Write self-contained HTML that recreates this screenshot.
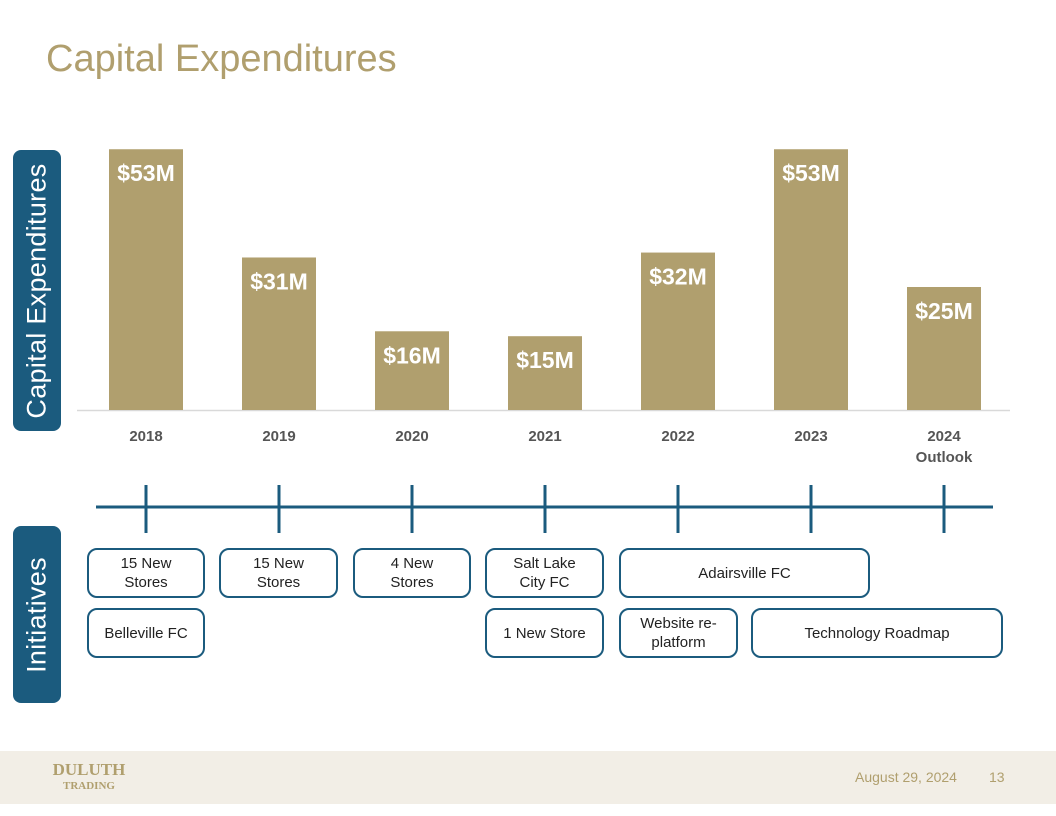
<!DOCTYPE html>
<html><head><meta charset="utf-8"><style>
body{margin:0;width:1056px;height:816px;background:#fff;font-family:"Liberation Sans",sans-serif;overflow:hidden;position:relative}
.abs{position:absolute}
.box{position:absolute;border:2.5px solid #1b5b7e;border-radius:10px;box-sizing:border-box;display:flex;align-items:center;justify-content:center;text-align:center;font-size:15px;line-height:19px;color:#222}
.side{position:absolute;background:#1b5b7e;border-radius:8px;left:13px;width:48px}
.side span{position:absolute;left:50%;top:50%;transform:translate(-50%,-50%) rotate(-90deg);color:#fff;font-size:27px;white-space:nowrap;letter-spacing:0.3px}
</style></head><body>
<div class="abs" style="left:46px;top:38px;font-size:38px;color:#b09f6e">Capital Expenditures</div>
<div class="side" style="top:150px;height:281px"><span>Capital Expenditures</span></div>
<div class="side" style="top:526px;height:177px"><span>Initiatives</span></div>
<svg class="abs" style="left:0;top:0" width="1056" height="540">
<line x1="77" x2="1010" y1="410.5" y2="410.5" stroke="#d9d9d9" stroke-width="1.5"/>
<g id="bars"></g>
<line x1="96" x2="993" y1="507" y2="507" stroke="#1b5b7e" stroke-width="3"/>
<g id="ticks"></g>
</svg>
<div class="box" style="left:87px;top:548px;width:118px;height:50px">15 New<br>Stores</div>
<div class="box" style="left:219px;top:548px;width:119px;height:50px">15 New<br>Stores</div>
<div class="box" style="left:353px;top:548px;width:118px;height:50px">4 New<br>Stores</div>
<div class="box" style="left:485px;top:548px;width:119px;height:50px">Salt Lake<br>City FC</div>
<div class="box" style="left:619px;top:548px;width:251px;height:50px">Adairsville FC</div>
<div class="box" style="left:87px;top:608px;width:118px;height:50px">Belleville FC</div>
<div class="box" style="left:485px;top:608px;width:119px;height:50px">1 New Store</div>
<div class="box" style="left:619px;top:608px;width:119px;height:50px">Website re-<br>platform</div>
<div class="box" style="left:751px;top:608px;width:252px;height:50px">Technology Roadmap</div>
<div class="abs" style="left:0;top:751px;width:1056px;height:53px;background:#f2eee6">
<div class="abs" style="left:44px;top:12px;color:#b09f6e;font-weight:bold;font-family:'Liberation Serif',serif;font-size:17px;line-height:14px;text-align:center;width:90px">DULUTH<br><span style="font-size:11px">TRADING</span></div>
<div class="abs" style="left:855px;top:18px;color:#b09f6e;font-size:14px">August 29, 2024</div>
<div class="abs" style="left:989px;top:18px;color:#b09f6e;font-size:14px">13</div>
</div>
<script>
const categories=["2018","2019","2020","2021","2022","2023","2024"];
const values=[53,31,16,15,32,53,25];
const labels=["$53M","$31M","$16M","$15M","$32M","$53M","$25M"];
const ns="http://www.w3.org/2000/svg";
const x=i=>146+i*133;
const y=v=>410-v*4.92;
const bars=document.getElementById('bars'),ticks=document.getElementById('ticks');
categories.forEach((c,i)=>{
 const r=document.createElementNS(ns,'rect');
 r.setAttribute('x',x(i)-37);r.setAttribute('width',74);r.setAttribute('y',y(values[i]));r.setAttribute('height',410-y(values[i]));r.setAttribute('fill','#b09f6e');
 
 
 bars.appendChild(r);
 const t=document.createElementNS(ns,'text');
 t.setAttribute('x',x(i));t.setAttribute('y',y(values[i])+32);t.setAttribute('text-anchor','middle');t.setAttribute('fill','#fff');t.setAttribute('font-size','23');t.setAttribute('font-weight','bold');t.textContent=labels[i];
 
 
 bars.appendChild(t);
 const l=document.createElementNS(ns,'text');
 l.setAttribute('x',x(i));l.setAttribute('y',441);l.setAttribute('text-anchor','middle');l.setAttribute('fill','#555');l.setAttribute('font-size','15');l.setAttribute('font-weight','bold');l.textContent=c;
 
 
 bars.appendChild(l);
 const k=document.createElementNS(ns,'line');
 k.setAttribute('x1',x(i));k.setAttribute('x2',x(i));k.setAttribute('y1',485);k.setAttribute('y2',533);k.setAttribute('stroke','#1b5b7e');k.setAttribute('stroke-width','3');
 
 
 ticks.appendChild(k);
});
const o=document.createElementNS(ns,'text');
o.setAttribute('x',x(6));o.setAttribute('y',462);o.setAttribute('text-anchor','middle');o.setAttribute('fill','#555');o.setAttribute('font-size','15');o.setAttribute('font-weight','bold');o.textContent='Outlook';


bars.appendChild(o);
</script>
</body></html>
